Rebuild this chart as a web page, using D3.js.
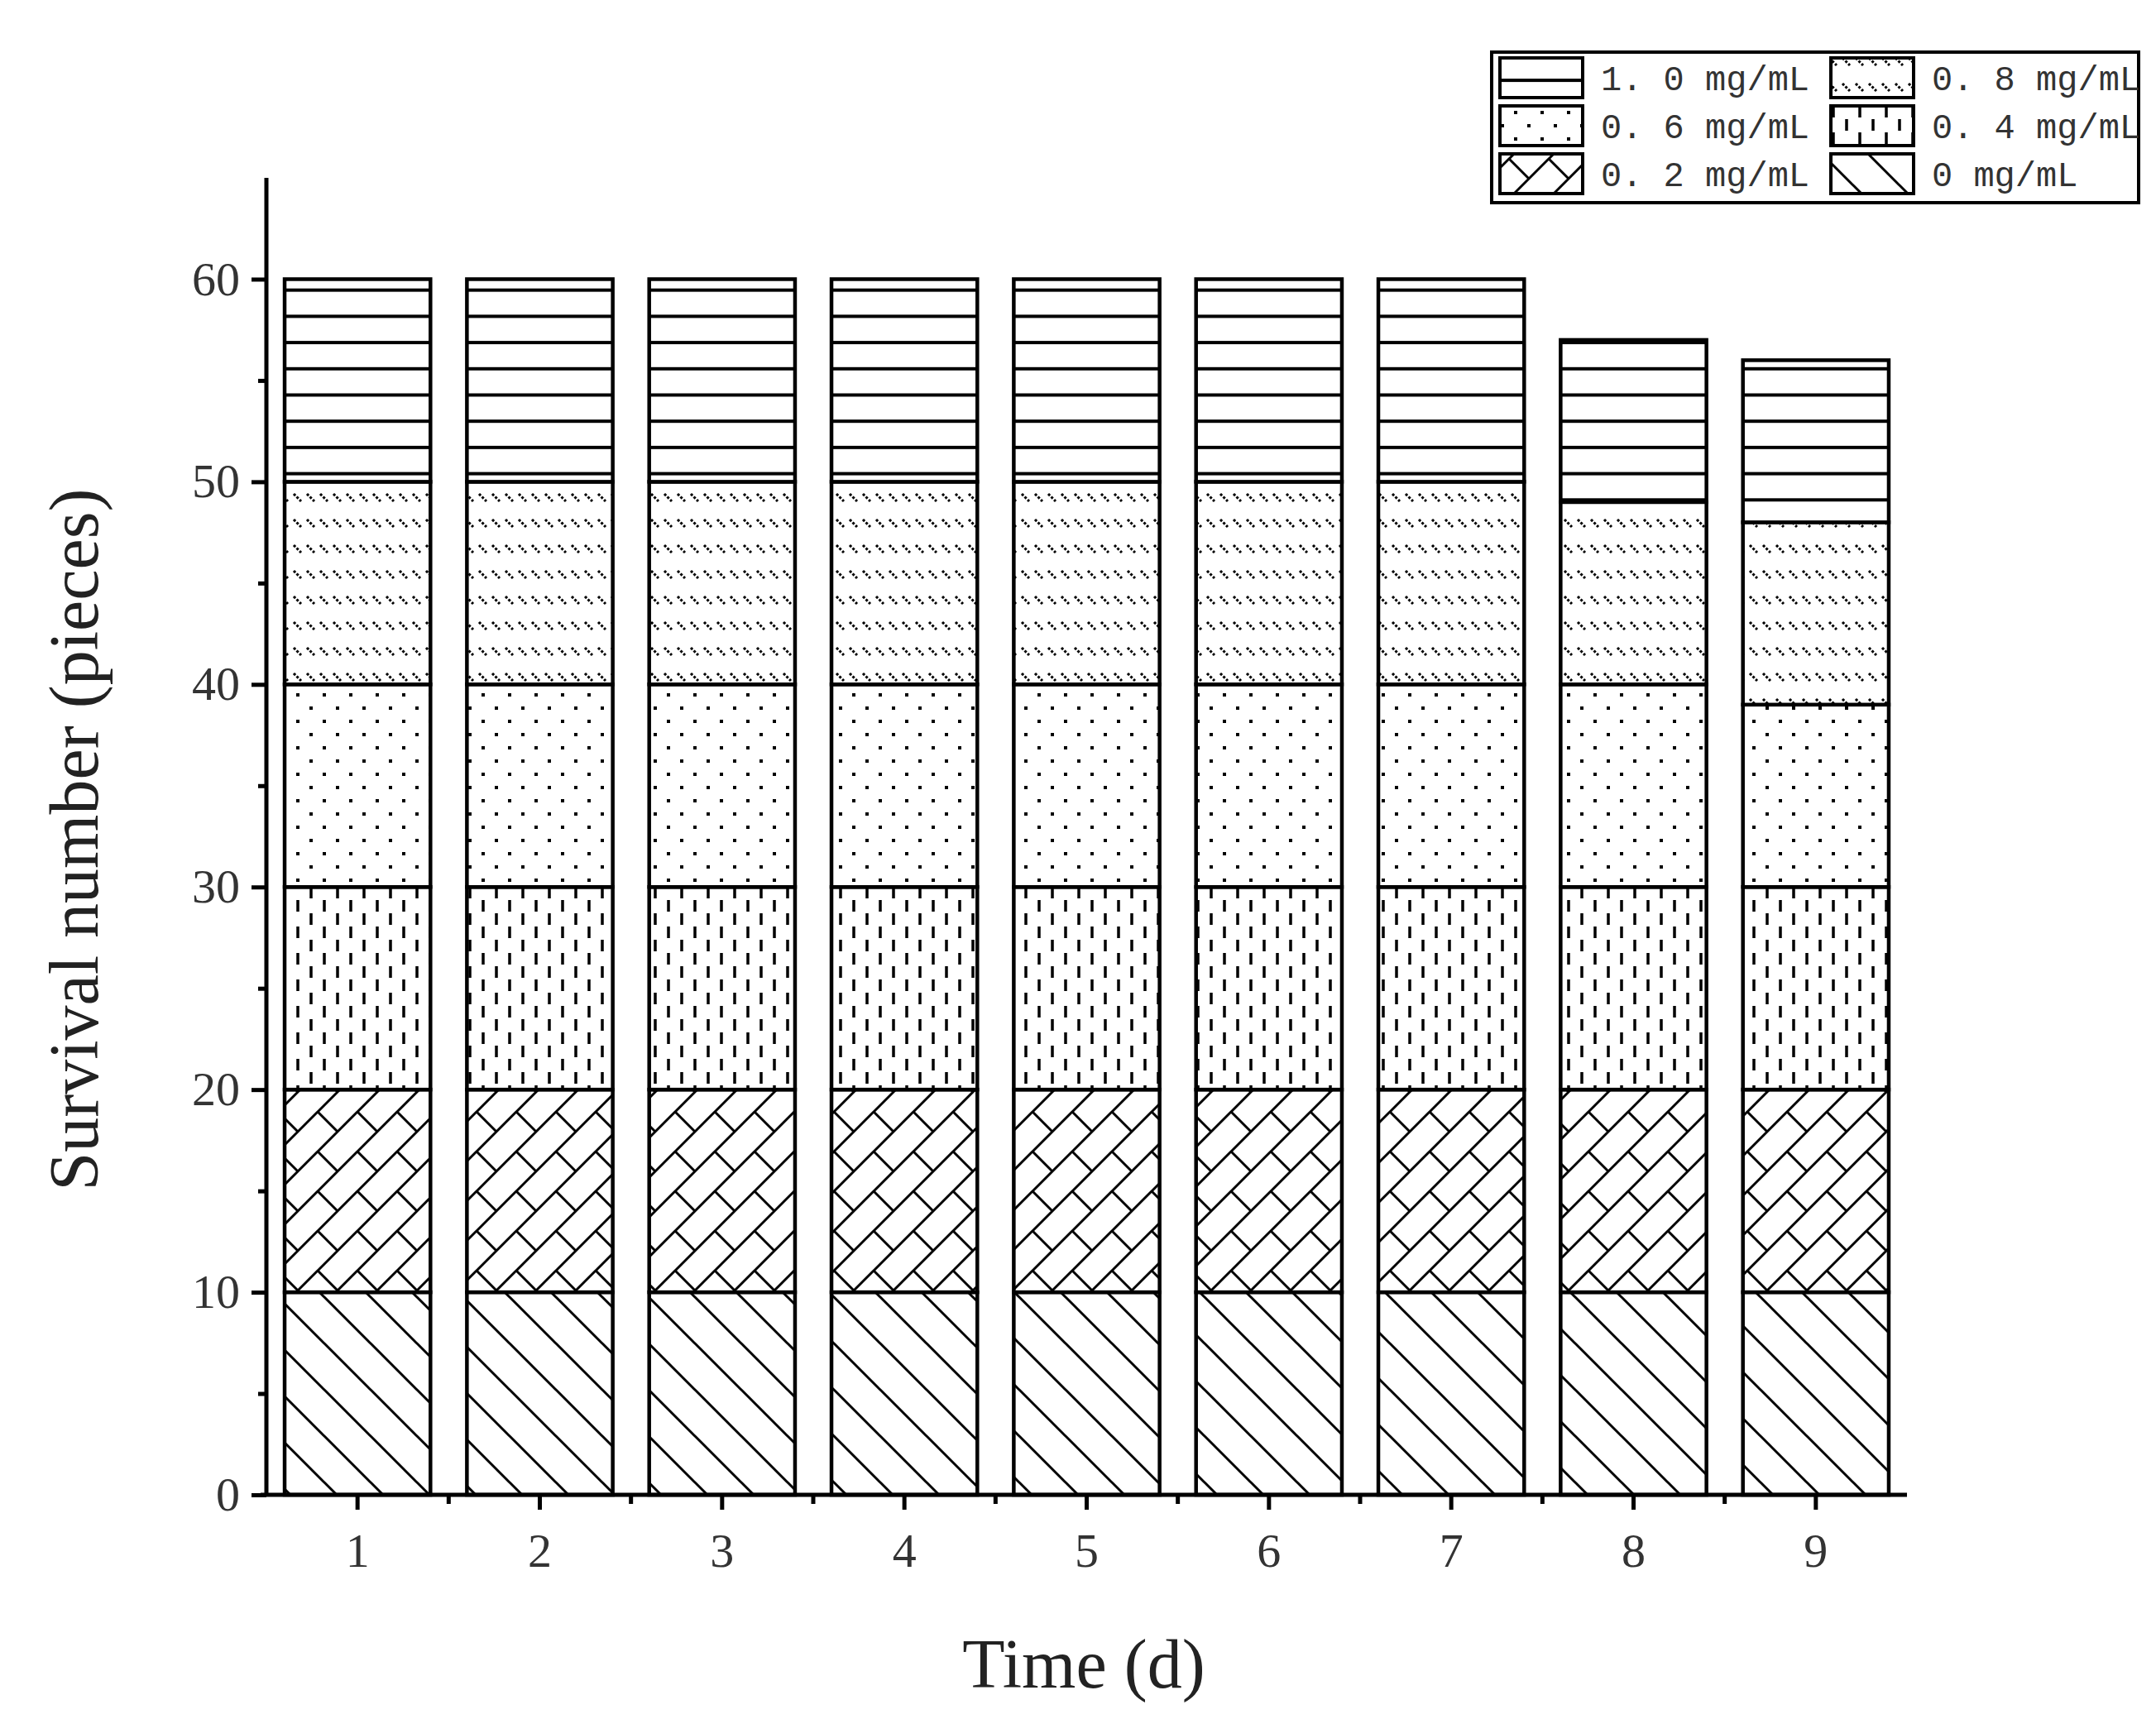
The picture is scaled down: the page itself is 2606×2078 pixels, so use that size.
<!DOCTYPE html>
<html><head><meta charset="utf-8">
<script src="https://cdn.jsdelivr.net/npm/d3@7"></script>
<style>body{margin:0;background:#fff}</style>
</head><body>
<svg id="chart" width="2606" height="2078"></svg>
<script>
// data
var days = ["1","2","3","4","5","6","7","8","9"];
var s0  = [10,10,10,10,10,10,10,10,10];
var s02 = [10,10,10,10,10,10,10,10,10];
var s04 = [10,10,10,10,10,10,10,10,10];
var s06 = [10,10,10,10,10,10,10,10, 9];
var s08 = [10,10,10,10,10,10,10, 9, 9];
var s10 = [10,10,10,10,10,10,10, 8, 8];
var seriesNames = ["0 mg/mL","0. 2 mg/mL","0. 4 mg/mL","0. 6 mg/mL","0. 8 mg/mL","1. 0 mg/mL"];
var yTicks = [0,10,20,30,40,50,60];

var svg = d3.select("#chart");
var defs = svg.append("defs");

function pat(id, w, h, draw) {
  var p = defs.append("pattern").attr("id", id).attr("patternUnits", "userSpaceOnUse")
    .attr("width", w).attr("height", h);
  p.append("rect").attr("width", w).attr("height", h).attr("fill", "#fff");
  draw(p);
}
// 0 mg/mL : backslash lines
pat("p0", 56, 56, function(p){
  p.append("path").attr("d","M0,0L56,56M-28,28L28,84M28,-28L84,28").attr("stroke","#000").attr("stroke-width",3);
});
// 0.2 : brick-like zigzag
pat("p1", 48, 48, function(p){
  p.append("path").attr("d","M0,48L48,0M-24,24L24,-24M24,72L72,24M0,0L24,24").attr("stroke","#000").attr("stroke-width",3);
});
// 0.4 : vertical dashes
pat("p2", 32, 32, function(p){
  p.append("path").attr("d","M8,0V14M24,16V30").attr("stroke","#000").attr("stroke-width",3.5);
});
// 0.6 : dots
pat("p3", 32, 32, function(p){
  p.append("rect").attr("x",6).attr("y",6).attr("width",4).attr("height",4);
  p.append("rect").attr("x",22).attr("y",22).attr("width",4).attr("height",4);
});
// 0.8 : short diagonal dashes in rows
pat("p4", 16, 31, function(p){
  p.append("path").attr("d","M3,8L12,17").attr("stroke","#000").attr("stroke-width",3).attr("stroke-dasharray","3,2");
});
// 1.0 : horizontal lines
pat("p5", 32, 31.7, function(p){
  p.append("path").attr("d","M0,2H32").attr("stroke","#000").attr("stroke-width",4);
});

var x = d3.scaleBand().domain(days).range([322, 2305]).paddingInner(0.2).paddingOuter(0.1);
var y = d3.scaleLinear().domain([0, 65]).range([1807, 215]);

var rows = days.map(function(d, i){
  return {day: d, s0: s0[i], s02: s02[i], s04: s04[i], s06: s06[i], s08: s08[i], s10: s10[i]};
});
var keys = ["s0","s02","s04","s06","s08","s10"];
var stacked = d3.stack().keys(keys)(rows);

stacked.forEach(function(layer, k){
  svg.append("g").selectAll("rect").data(layer).enter().append("rect")
    .attr("x", function(d){ return x(d.data.day); })
    .attr("width", x.bandwidth())
    .attr("y", function(d){ return y(d[1]); })
    .attr("height", function(d){ return y(d[0]) - y(d[1]); })
    .attr("fill", "url(#p" + k + ")")
    .attr("stroke", "#000").attr("stroke-width", 4.5);
});

// axes
var font = "Liberation Serif, Times New Roman, serif";
var yAxis = svg.append("g").attr("transform", "translate(322,0)")
  .call(d3.axisLeft(y).tickValues(yTicks).tickSize(18).tickPadding(14).tickFormat(d3.format("d")));
yAxis.select(".domain").attr("d", "M0," + y(65) + "V" + y(0));
svg.append("g").attr("transform", "translate(322,0)")
  .call(d3.axisLeft(y).tickValues(d3.range(5, 65, 10)).tickSize(10).tickFormat(""))
  .selectAll(".domain").remove();

var xAxis = svg.append("g").attr("transform", "translate(0,1807)")
  .call(d3.axisBottom(x).tickSize(18).tickPadding(28));
xAxis.select(".domain").attr("d", "M315,0H2305");
var mids = days.slice(1).map(function(d){ return x(d) - x.step() * 0.1; });
svg.append("g").selectAll("line").data(mids).enter().append("line")
  .attr("x1", function(d){ return d; })
  .attr("x2", function(d){ return d; })
  .attr("y1", 1807).attr("y2", 1818).attr("stroke", "#000").attr("stroke-width", 5);

[yAxis, xAxis].forEach(function(a){
  a.selectAll(".domain, .tick line").attr("stroke", "#000").attr("stroke-width", 5);
  a.selectAll("text").attr("font-family", font).attr("font-size", 58).attr("fill", "#333");
});
svg.selectAll("g line").attr("stroke", "#000").attr("stroke-width", 5);

svg.append("text").attr("x", 1310).attr("y", 2040).attr("text-anchor", "middle")
  .attr("font-family", font).attr("font-size", 84).attr("fill", "#222").text("Time (d)");
svg.append("text").attr("transform", "translate(118,1015) rotate(-90)").attr("text-anchor", "middle")
  .attr("font-family", font).attr("font-size", 84).attr("fill", "#222").text("Survival number (pieces)");

// legend
var lg = svg.append("g");
lg.append("rect").attr("x", 1803).attr("y", 63).attr("width", 782).attr("height", 182)
  .attr("fill", "#fff").attr("stroke", "#000").attr("stroke-width", 4);
var order = [5, 4, 3, 2, 1, 0];
order.forEach(function(k, i){
  var col = i % 2, row = Math.floor(i / 2);
  var lx = 1813 + col * 400, ly = 70 + row * 58;
  lg.append("rect").attr("x", lx).attr("y", ly).attr("width", 100).attr("height", 48)
    .attr("fill", "url(#p" + k + ")").attr("stroke", "#000").attr("stroke-width", 4);
  lg.append("text").attr("x", lx + 122).attr("y", ly + 39)
    .attr("font-family", "Liberation Mono, DejaVu Sans Mono, monospace").attr("font-size", 42)
    .attr("fill", "#333").text(seriesNames[k]);
});
</script>
</body></html>
